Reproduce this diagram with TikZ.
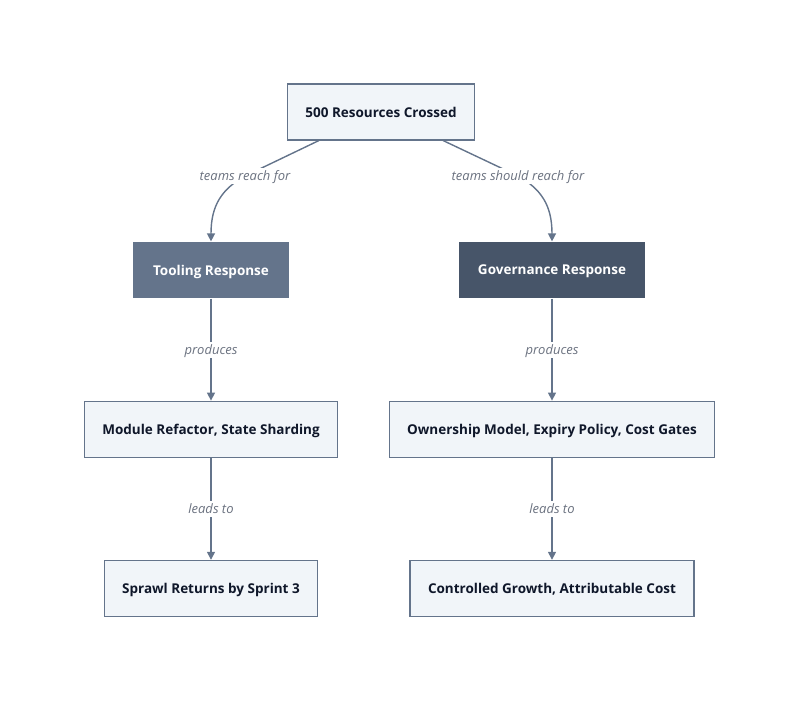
\documentclass[tikz,border=0pt]{standalone}
\usepackage{fontspec}
\setmainfont{Open Sans}
\usetikzlibrary{arrows.meta, positioning}

\definecolor{boxfill}{HTML}{F1F5F9}
\definecolor{boxline}{HTML}{64748B}
\definecolor{toolfill}{HTML}{64748B}
\definecolor{govfill}{HTML}{475569}
\definecolor{inkdark}{HTML}{0F172A}
\definecolor{labelgray}{HTML}{6B7280}

\begin{document}
\begin{tikzpicture}[
    x=1pt, y=-1pt,
    node distance=102pt,
    box/.style={
        rectangle,
        draw=boxline,
        line width=1.2pt,
        fill=boxfill,
        text=inkdark,
        font=\fontsize{13.5}{16}\selectfont\bfseries,
        inner xsep=18pt,
        text depth=0pt,
        minimum height=56pt
    },
    darkbox/.style={
        box,
        draw=none,
        text=white
    },
    edgelabel/.style={
        fill=white,
        text=labelgray,
        font=\fontsize{13}{15}\selectfont\itshape,
        text depth=0pt,
        inner sep=3pt
    },
    arrow/.style={-{Triangle[length=8pt, width=8pt]}, line width=1.4pt, draw=boxline}
]
\useasboundingbox (0,0) rectangle (800,701);

\node[box] (crossed) at (381,112) {500 Resources Crossed};
\node[darkbox, fill=toolfill, minimum width=156pt] (tooling) at (211,270) {Tooling Response};
\node[darkbox, fill=govfill, minimum width=186pt] (governance) at (552,270) {Governance Response};
\node[box, below=of tooling] (refactor) {Module Refactor, State Sharding};
\node[box, below=of governance] (ownership) {Ownership Model, Expiry Policy, Cost Gates};
\node[box, below=of refactor] (sprawl) {Sprawl Returns by Sprint 3};
\node[box, below=of ownership] (controlled) {Controlled Growth, Attributable Cost};

\draw[arrow] ([xshift=32pt]crossed.south west) -- (245,176) node[edgelabel] {teams reach for}
    .. controls (222,189) and (211,205) .. (tooling.north);
\draw[arrow] ([xshift=-32pt]crossed.south east) -- (518,176) node[edgelabel] {teams should reach for}
    .. controls (541,189) and (552,205) .. (governance.north);
\draw[arrow] (tooling) -- node[edgelabel] {produces} (refactor);
\draw[arrow] (governance) -- node[edgelabel] {produces} (ownership);
\draw[arrow] (refactor) -- node[edgelabel] {leads to} (sprawl);
\draw[arrow] (ownership) -- node[edgelabel] {leads to} (controlled);

\end{tikzpicture}
\end{document}
